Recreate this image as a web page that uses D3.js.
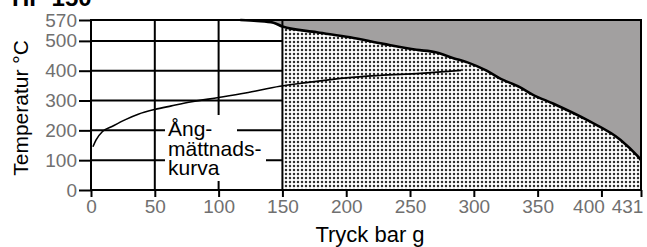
<!DOCTYPE html>
<html><head><meta charset="utf-8">
<script src="https://cdn.jsdelivr.net/npm/d3@7"></script>
<style>
html,body{margin:0;padding:0;background:#fff;}
svg{display:block;font-family:"Liberation Sans",Arial,sans-serif;}
</style></head>
<body>
<svg id="c" width="647" height="247"></svg>
<script>
// ---- data ----
const title = "HP 150";
const xTicks = [0, 50, 100, 150, 200, 250, 300, 350, 400, 431];
const yTicks = [0, 100, 200, 300, 400, 500, 570];
const xGrid = [50, 100, 150];
const yGrid = [100, 200, 300, 400, 500];
const dottedFrom = 150;
// saturation curve (bar g, °C)
const satBar  = [1.5, 4, 9, 16, 27, 37, 50, 63, 79, 100, 121, 148, 169, 200, 226, 258, 290];
const satTemp = [145, 168, 196, 212, 236, 254, 270, 282, 296, 310, 325, 348, 360, 376, 384, 391, 401];
// upper limit curve (bar g, °C)
const limBar  = [117, 130, 143, 150, 177, 203, 229, 255, 270, 284, 295, 310, 320, 336, 346, 362, 389, 415, 428, 431];
const limTemp = [570, 567, 561, 548, 529, 512, 490, 470, 462, 442, 428, 400, 375, 345, 320, 290, 234, 168, 115, 100];
const labelLines = ["Ång-", "mättnads-", "kurva"];
const xTitle = "Tryck bar g";
const yTitle = "Temperatur °C";

// ---- drawing ----
const svg = d3.select("#c");
const x = d3.scaleLinear().domain([0, 431]).range([91, 641]);
const y = d3.scaleLinear().domain([0, 570]).range([190, 20]);

const defs = svg.append("defs");
const pat = defs.append("pattern").attr("id","dots").attr("patternUnits","userSpaceOnUse")
  .attr("width",4).attr("height",4);
pat.append("rect").attr("width",4).attr("height",4).attr("fill","#fff");
pat.append("circle").attr("cx",2).attr("cy",2).attr("r",1.25).attr("fill","#303030");

const lim = limBar.map((b,i)=>({b, t:limTemp[i]}));
const sat = satBar.map((b,i)=>({b, t:satTemp[i]}));
const curve = d3.curveMonotoneX;

// gray area above limit curve
svg.append("path")
  .datum(lim)
  .attr("d", d3.area().x(d=>x(d.b)).y0(y(570)).y1(d=>y(d.t)).curve(curve))
  .attr("fill","#a2a0a0");

// dotted area
svg.append("path")
  .datum(lim.filter(d=>d.b>=dottedFrom))
  .attr("d", d3.area().x(d=>x(d.b)).y0(y(0)).y1(d=>y(d.t)).curve(curve))
  .attr("fill","url(#dots)");

// grid
const g = svg.append("g").attr("stroke","#000").attr("stroke-width",2);
g.selectAll("line.h").data(yGrid).join("line")
  .attr("x1",x(0)).attr("x2",x(dottedFrom)).attr("y1",d=>y(d)).attr("y2",d=>y(d));
g.selectAll("line.v").data(xGrid).join("line")
  .attr("x1",d=>x(d)).attr("x2",d=>x(d)).attr("y1",y(0)).attr("y2",y(570));

// label with white boxes
const lab = svg.append("g").attr("fill","#000");
const boxes = [[165,115,237,141],[165,141,266,162],[165,162,226,181]];
boxes.forEach(bx=>lab.append("rect").attr("x",bx[0]).attr("y",bx[1])
  .attr("width",bx[2]-bx[0]).attr("height",bx[3]-bx[1]).attr("fill","#fff"));
const lt = lab.append("text").attr("x",168).attr("y",136).attr("font-size",21);
labelLines.forEach((t,i)=>lt.append("tspan").attr("x",168).attr("dy", i===0?0:19.5).text(t));

// saturation line
svg.append("path").datum(sat)
  .attr("d", d3.line().x(d=>x(d.b)).y(d=>y(d.t)).curve(curve))
  .attr("fill","none").attr("stroke","#000").attr("stroke-width",1.6);

// limit curve line
svg.append("path").datum(lim)
  .attr("d", d3.line().x(d=>x(d.b)).y(d=>y(d.t)).curve(curve))
  .attr("fill","none").attr("stroke","#000").attr("stroke-width",2.6);

// frame
svg.append("rect").attr("x",x(0)).attr("y",y(570)).attr("width",x(431)-x(0)).attr("height",y(0)-y(570))
  .attr("fill","none").attr("stroke","#000").attr("stroke-width",2);

// axes
const xa = svg.append("g").attr("transform",`translate(0,${y(0)})`)
  .call(d3.axisBottom(x).tickValues(xTicks).tickSize(7).tickSizeOuter(0).tickPadding(3).tickFormat(d3.format("d")));
const ya = svg.append("g").attr("transform",`translate(${x(0)},0)`)
  .call(d3.axisLeft(y).tickValues(yTicks).tickSize(12).tickSizeOuter(0).tickPadding(2).tickFormat(d3.format("d")));
[xa, ya].forEach(a=>{
  a.select(".domain").remove();
  a.selectAll(".tick line").attr("stroke","#000").attr("stroke-width",2);
  a.selectAll(".tick text").attr("fill","#707070").attr("font-size",19)
    .attr("font-family","'Liberation Sans',Arial,sans-serif");
});
xa.selectAll(".tick text").filter(d=>d===400).attr("dx",-13);
xa.selectAll(".tick text").filter(d=>d===431).attr("dx",-14);

// titles
svg.append("text").attr("x",370).attr("y",242).attr("text-anchor","middle")
  .attr("font-size",22).text(xTitle);
svg.append("text").attr("transform","translate(28,108) rotate(-90)").attr("text-anchor","middle")
  .attr("font-size",21).text(yTitle);
svg.append("text").attr("x",12).attr("y",6).attr("font-size",24).attr("font-weight","bold").text(title);
</script>
</body></html>
